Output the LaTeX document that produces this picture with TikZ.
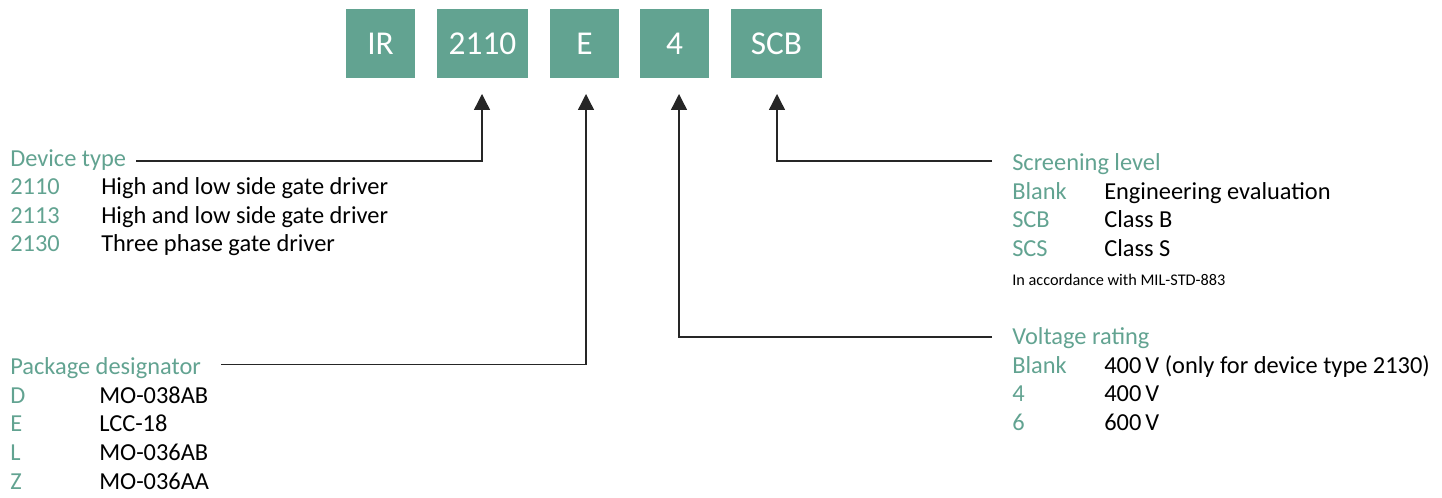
\documentclass[tikz,border=0pt]{standalone}
\usepackage{fontspec}
\setmainfont{Carlito}
\usetikzlibrary{arrows.meta}
\definecolor{pnGreen}{HTML}{62A391}
\definecolor{pnText}{HTML}{000000}
\tikzset{
  codebox/.style={fill=pnGreen, text=white, minimum height=51.75pt, inner sep=0pt,
    font=\fontsize{25}{30}\selectfont},
  head/.style={anchor=base west, inner sep=0pt, text=pnGreen, font=\fontsize{18.3}{22}\selectfont},
  keytxt/.style={anchor=base west, inner sep=0pt, text=pnGreen, font=\fontsize{18.3}{22}\selectfont},
  valtxt/.style={anchor=base west, inner sep=0pt, text=pnText, font=\fontsize{18.3}{22}\selectfont},
  notetxt/.style={anchor=base west, inner sep=0pt, text=pnText, font=\fontsize{12.2}{14}\selectfont},
  conn/.style={draw=black!85, line width=1pt, -{Triangle[length=12pt,width=12pt]}}
}
\begin{document}
\begin{tikzpicture}[x=0.75pt,y=-0.75pt]
\useasboundingbox (0,0) rectangle (1442,498);
% code boxes
\node[codebox, minimum width=51.75pt] (b1) at (380.5,43.5) {IR};
\node[codebox, minimum width=68.25pt] (b2) at (482.5,43.5) {2110};
\node[codebox, minimum width=51.75pt] (b3) at (584.5,43.5) {E};
\node[codebox, minimum width=51.75pt] (b4) at (674.5,43.5) {4};
\node[codebox, minimum width=68.25pt] (b5) at (776.5,43.5) {SCB};
% arrow tips
\coordinate (t2) at (482,94);
\coordinate (t3) at (586,94);
\coordinate (t4) at (679,94);
\coordinate (t5) at (777,94);
% line ends
\coordinate (dtS) at (136,161);
\coordinate (pdS) at (221,364.5);
\coordinate (slS) at (992,161);
\coordinate (vrS) at (992,337);
% Device type
\node[head] (dt) at (10,167) {Device type};
\node[keytxt] (dk1) at (10,195) {2110};
\node[valtxt] (dv1) at (101,195) {High and low side gate driver};
\node[keytxt] (dk2) at (10,223.5) {2113};
\node[valtxt] (dv2) at (101,223.5) {High and low side gate driver};
\node[keytxt] (dk3) at (10,252) {2130};
\node[valtxt] (dv3) at (101,252) {Three phase gate driver};
% Package designator
\node[head] (pd) at (10,375) {Package designator};
\node[keytxt] (pk1) at (10,403.5) {D};
\node[valtxt] (pv1) at (99,403.5) {MO-038AB};
\node[keytxt] (pk2) at (10,432) {E};
\node[valtxt] (pv2) at (99,432) {LCC-18};
\node[keytxt] (pk3) at (10,460.5) {L};
\node[valtxt] (pv3) at (99,460.5) {MO-036AB};
\node[keytxt] (pk4) at (10,489) {Z};
\node[valtxt] (pv4) at (99,489) {MO-036AA};
% Screening level
\node[head] (sl) at (1012,171) {Screening level};
\node[keytxt] (sk1) at (1012,199.5) {Blank};
\node[valtxt] (sv1) at (1104,199.5) {Engineering evaluation};
\node[keytxt] (sk2) at (1012,228) {SCB};
\node[valtxt] (sv2) at (1104,228) {Class B};
\node[keytxt] (sk3) at (1012,256.5) {SCS};
\node[valtxt] (sv3) at (1104,256.5) {Class S};
\node[notetxt] (sn) at (1012,285.5) {In accordance with MIL-STD-883};
% Voltage rating
\node[head] (vr) at (1012,345) {Voltage rating};
\node[keytxt] (vk1) at (1012,373.5) {Blank};
\node[valtxt] (vv1) at (1104,373.5) {400\,V (only for device type 2130)};
\node[keytxt] (vk2) at (1012,402) {4};
\node[valtxt] (vv2) at (1104,402) {400\,V};
\node[keytxt] (vk3) at (1012,430.5) {6};
\node[valtxt] (vv3) at (1104,430.5) {600\,V};
% connectors
\draw[conn] (dtS) -| (t2);
\draw[conn] (pdS) -| (t3);
\draw[conn] (vrS) -| (t4);
\draw[conn] (slS) -| (t5);
\end{tikzpicture}
\end{document}
